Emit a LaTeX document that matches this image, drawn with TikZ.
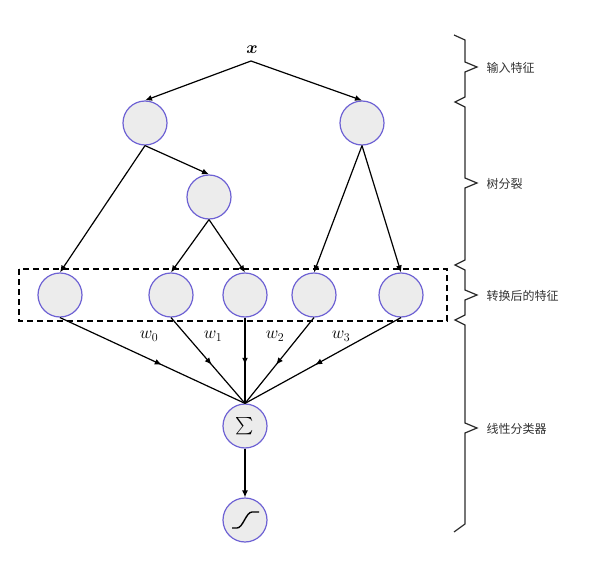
\documentclass[tikz,border=0pt]{standalone}
\usepackage{amsmath}
\usepackage{fontspec}
\newfontfamily\cjk{Noto Sans CJK SC}
\usetikzlibrary{arrows.meta,decorations.markings}
\definecolor{nodeblue}{RGB}{110,98,212}
\definecolor{nodegray}{RGB}{236,236,236}
\definecolor{bracegray}{RGB}{45,45,45}
\begin{document}
\begin{tikzpicture}[x=1pt,y=-1pt,
  neuron/.style={circle, minimum size=44pt, inner sep=0pt, draw=nodeblue, fill=nodegray, line width=1.2pt},
  link/.style={-{Latex[length=7pt,width=6pt]}, line width=1.2pt},
  midlink/.style={line width=1.2pt, postaction={decorate},
    decoration={markings, mark=at position 0.55 with {\arrow{Latex[length=7pt,width=6pt]}}}},
  wlabel/.style={font=\fontsize{17}{19}\selectfont},
  tag/.style={anchor=west, font=\cjk\fontsize{12}{14}\selectfont, text=black!80},
  bracepath/.style={draw=bracegray, line width=1.2pt, line join=miter}]
  % canvas
  \useasboundingbox (0,0) rectangle (590,562);
  \fill[white] (0,0) rectangle (590,562);

  % input
  \node[inner sep=1pt, font=\fontsize{17}{19}\selectfont] (x) at (252,50) {$\boldsymbol{x}$};
  \coordinate (xin) at (251,61);

  % tree nodes
  \node[neuron] (a1) at (145,123) {};
  \node[neuron] (a2) at (362,123) {};
  \node[neuron] (b)  at (209,197) {};

  % transformed features
  \node[neuron] (f1) at (60,295) {};
  \node[neuron] (f2) at (171,295) {};
  \node[neuron] (f3) at (245,295) {};
  \node[neuron] (f4) at (314,295) {};
  \node[neuron] (f5) at (401,295) {};
  \draw[dashed, dash pattern=on 6pt off 4pt, line width=1.2pt] (19,269) rectangle (447,321);

  % classifier
  \node[neuron, font=\fontsize{19}{21}\selectfont] (sum) at (245,426) {$\textstyle\sum$};
  \node[neuron] (sig) at (245,520) {};
  \draw[line width=1.4pt] (232,528) -- (237,528) .. controls (243,528) and (246,512) .. (252,512) -- (259,512);

  % tree edges
  \draw[link] (xin) -- (a1.north);
  \draw[link] (xin) -- (a2.north);
  \draw[link] (a1.south) -- (f1.north);
  \draw[link] (a1.south) -- (b.north);
  \draw[link] (b.south) -- (f2.north);
  \draw[link] (b.south) -- (f3.north);
  \draw[link] (a2.south) -- (f4.north);
  \draw[link] (a2.south) -- (f5.north);

  % weighted inputs
  \foreach \f in {f1,f2,f3,f4,f5}
    \draw[midlink] (\f.south) -- (sum.north);
  \draw[link] (sum.south) -- (sig.north);

  \node[wlabel] (w0) at (149,336) {$w_0$};
  \node[wlabel] (w1) at (213,336) {$w_1$};
  \node[wlabel] (w2) at (275,336) {$w_2$};
  \node[wlabel] (w3) at (341,336) {$w_3$};

  % braces on the right
  \draw[bracepath] (454,35) -- (465,40) -- (465,62) -- (477,67) -- (465,72) -- (465,97)
    -- (455,102) -- (465,107) -- (465,178) -- (477,183) -- (465,188) -- (465,260)
    -- (455,265) -- (465,270) -- (465,290) -- (477,295) -- (465,300) -- (465,315)
    -- (455,320) -- (465,325) -- (465,423) -- (477,428) -- (465,433) -- (465,524)
    -- (454,532);
  \node[tag] (t1) at (483,68) {输入特征};
  \node[tag] (t2) at (483,184) {树分裂};
  \node[tag] (t3) at (483,296) {转换后的特征};
  \node[tag] (t4) at (483,429) {线性分类器};
\end{tikzpicture}
\end{document}
